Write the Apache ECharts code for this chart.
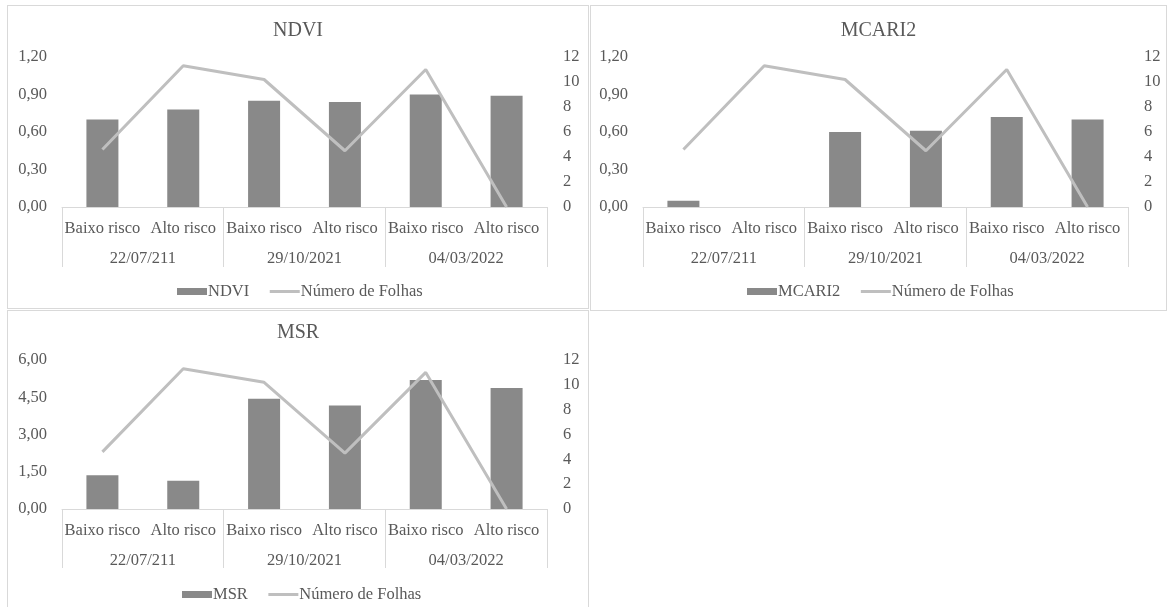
<!DOCTYPE html>
<html>
<head>
<meta charset="utf-8">
<script src="https://cdn.jsdelivr.net/npm/echarts@6/dist/echarts.min.js"></script>
<style>
  html, body { margin: 0; padding: 0; background: #ffffff; }
  body { width: 1168px; height: 607px; position: relative; overflow: hidden; }
  .panel { position: absolute; border: 1px solid #d9d9d9; background: #fff; }
</style>
</head>
<body>
<div id="p1" class="panel" style="left:7px; top:5px; width:580px; height:302px;"></div>
<div id="p2" class="panel" style="left:590px; top:5px; width:575px; height:304px;"></div>
<div id="p3" class="panel" style="left:7px; top:310px; width:580px; height:300px;"></div>
<script>
// ---- data ----
var categories = ['Baixo risco', 'Alto risco', 'Baixo risco', 'Alto risco', 'Baixo risco', 'Alto risco'];
var groups = ['22/07/211', '29/10/2021', '04/03/2022'];
var ndvi = [0.70, 0.78, 0.85, 0.84, 0.90, 0.89];
var mcari2 = [0.05, 0, 0.60, 0.61, 0.72, 0.70];
var msr = [1.36, 1.14, 4.44, 4.17, 5.19, 4.87];
var folhas = [4.6, 11.3, 10.2, 4.5, 11.0, 0];
var leftTicksNdvi = { min: 0, max: 1.2, interval: 0.3 };
var leftTicksMsr = { min: 0, max: 6, interval: 1.5 };
var rightTicks = { min: 0, max: 12, interval: 2 };

var FONT = '"Liberation Serif", "Times New Roman", serif';
var TXT = '#595959';
var BAR = '#898989';
var LINE = '#bfbfbf';
var AXIS = '#d9d9d9';
var FS = 16.5;

function fmt(v) { return v.toFixed(2).replace('.', ','); }

function makeOption(cfg) {
  return {
    animation: false,
    textStyle: { fontFamily: FONT, color: TXT },
    title: {
      text: cfg.title, left: 'center', top: cfg.titleTop, padding: 0,
      textStyle: { fontFamily: FONT, fontSize: 20, fontWeight: 'normal', color: TXT }
    },
    legend: {
      left: cfg.legendLeft, top: cfg.legendTop, padding: 0,
      itemWidth: 30, itemHeight: 7, itemGap: 19,
      textStyle: { fontFamily: FONT, fontSize: FS, color: TXT, padding: [0, 0, 0, -4] },
      data: [
        { name: cfg.title, icon: 'rect' },
        { name: 'Número de Folhas', itemStyle: { opacity: 0 }, lineStyle: { width: 3, color: LINE } }
      ]
    },
    grid: {
      left: cfg.gridLeft, top: cfg.gridTop, width: cfg.gridWidth, height: cfg.gridHeight,
      containLabel: false, outerBoundsMode: 'none'
    },
    xAxis: [
      {
        type: 'category', data: categories, position: 'bottom',
        axisLine: { show: true, lineStyle: { color: AXIS, width: 1 } },
        axisTick: { show: false },
        axisLabel: { interval: 0, hideOverlap: false, margin: 13, fontFamily: FONT, fontSize: FS, color: TXT }
      },
      {
        type: 'category', data: groups, position: 'bottom', gridIndex: 0,
        axisLine: { show: false },
        axisTick: { show: true, length: cfg.tickLen, lineStyle: { color: AXIS, width: 1 } },
        axisLabel: { interval: 0, margin: 43, fontFamily: FONT, fontSize: FS, color: TXT }
      }
    ],
    yAxis: [
      {
        type: 'value', min: cfg.left.min, max: cfg.left.max, interval: cfg.left.interval,
        axisLine: { show: false }, axisTick: { show: false }, splitLine: { show: false },
        axisLabel: { margin: 15, formatter: fmt, fontFamily: FONT, fontSize: FS, color: TXT }
      },
      {
        type: 'value', min: rightTicks.min, max: rightTicks.max, interval: rightTicks.interval,
        position: 'right',
        axisLine: { show: false }, axisTick: { show: false }, splitLine: { show: false },
        axisLabel: { margin: 16, fontFamily: FONT, fontSize: FS, color: TXT }
      }
    ],
    series: [
      {
        name: cfg.title, type: 'bar', xAxisIndex: 0, yAxisIndex: 0,
        data: cfg.values, barWidth: 32,
        itemStyle: { color: BAR }
      },
      {
        name: 'Número de Folhas', type: 'line', xAxisIndex: 0, yAxisIndex: 1,
        data: folhas, symbol: 'none', smooth: false, z: 5,
        lineStyle: { color: LINE, width: 3 }, itemStyle: { color: LINE }
      }
    ]
  };
}

var c1 = echarts.init(document.getElementById('p1'), null, { renderer: 'canvas' });
c1.setOption(makeOption({
  title: 'NDVI', titleTop: 15, legendLeft: 169, legendTop: 277,
  gridLeft: 54, gridTop: 51, gridWidth: 485, gridHeight: 150, tickLen: 60,
  left: leftTicksNdvi, values: ndvi
}));

var c2 = echarts.init(document.getElementById('p2'), null, { renderer: 'canvas' });
c2.setOption(makeOption({
  title: 'MCARI2', titleTop: 15, legendLeft: 156, legendTop: 277,
  gridLeft: 52, gridTop: 51, gridWidth: 485, gridHeight: 150, tickLen: 60,
  left: leftTicksNdvi, values: mcari2
}));

var c3 = echarts.init(document.getElementById('p3'), null, { renderer: 'canvas' });
c3.setOption(makeOption({
  title: 'MSR', titleTop: 12, legendLeft: 174, legendTop: 275,
  gridLeft: 54, gridTop: 49, gridWidth: 485, gridHeight: 149, tickLen: 59,
  left: leftTicksMsr, values: msr
}));
</script>
</body>
</html>
